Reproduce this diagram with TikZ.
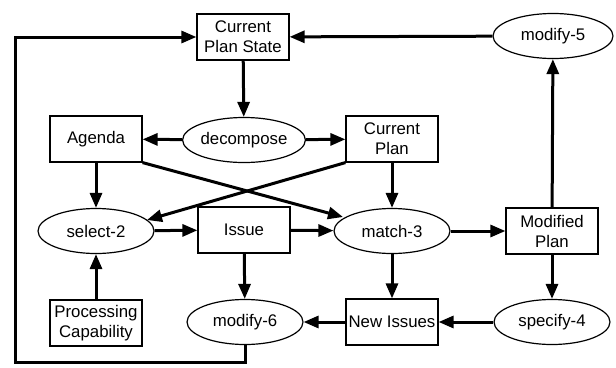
\documentclass[tikz,border=0pt]{standalone}
\usepackage{fontspec}
\setmainfont{Liberation Sans}
\usetikzlibrary{arrows.meta,shapes.geometric}
\begin{document}
\begin{tikzpicture}[x=1pt,y=1pt,
  every node/.style={font=\fontsize{16.8}{20}\selectfont, align=center, inner sep=0pt},
  boxnode/.style={draw, line width=1.2pt, minimum width=92pt, minimum height=46pt},
  ovalnode/.style={ellipse, draw, line width=1.2pt, minimum width=116pt, minimum height=45pt},
  arr/.style={line width=3pt, -{Triangle[length=15pt,width=12pt]}, line join=miter}
]
\useasboundingbox (0,0) rectangle (616,-367);
\node[boxnode] (cps) at (243,-37) {Current\\Plan State};
\node[ovalnode] (dec) at (244,-140) {decompose};
\node[boxnode] (agenda) at (96,-139) {Agenda};
\node[boxnode] (cplan) at (392,-139) {Current\\Plan};
\node[ovalnode, minimum width=120pt] (mod5) at (553,-36) {modify-5};
\node[ovalnode] (sel2) at (96,-231) {select-2};
\node[boxnode] (issue) at (244,-230) {Issue};
\node[ovalnode] (match3) at (392,-231) {match-3};
\node[boxnode] (mplan) at (552,-231) {Modified\\Plan};
\node[boxnode] (proc) at (96,-323) {Processing\\Capability};
\node[ovalnode] (mod6) at (245,-322) {modify-6};
\node[boxnode] (newi) at (392,-322) {New Issues};
\node[ovalnode] (spec4) at (552,-322) {specify-4};
\coordinate (lp) at (15,-362);
\coordinate (m3nw) at (343,-217);
\coordinate (s2ne) at (147,-220);

\draw[arr] (cps) -- (dec);
\draw[arr] (dec) -- (agenda);
\draw[arr] (dec) -- (cplan);
\draw[arr] (agenda) -- (sel2);
\draw[arr] (cplan) -- (match3);
\draw[arr] (agenda.south east) -- (m3nw);
\draw[arr] (cplan.south west) -- (s2ne);
\draw[arr] (sel2) -- (issue);
\draw[arr] (issue) -- (match3);
\draw[arr] (issue) -- (mod6);
\draw[arr] (match3) -- (mplan);
\draw[arr] (match3) -- (newi);
\draw[arr] (mplan) -- (spec4);
\draw[arr] (mplan) -- (mod5);
\draw[arr] (mod5) -- (cps);
\draw[arr] (spec4) -- (newi);
\draw[arr] (newi) -- (mod6);
\draw[arr] (proc) -- (sel2);
\draw[arr] (mod6.south) |- (lp) |- (cps.west);
\end{tikzpicture}
\end{document}
